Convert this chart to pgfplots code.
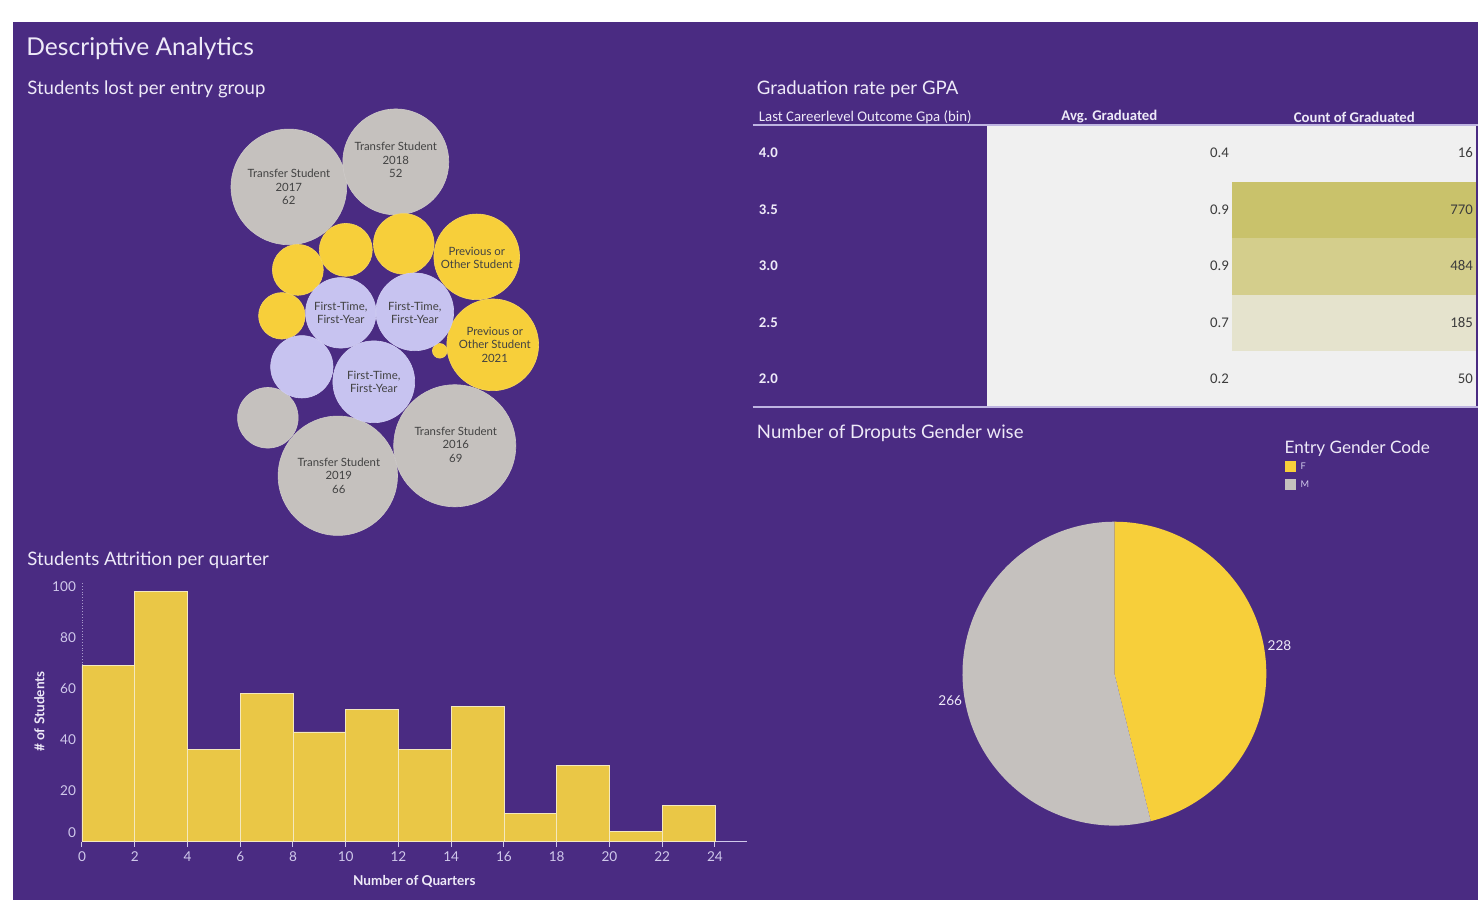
\documentclass[border=0pt]{standalone}
\usepackage{pgfplots}
\pgfplotsset{compat=1.18}
\usepackage{pgfplotstable}
\usepackage{fontspec}
\setmainfont{Lato}
\newfontfamily\tabfont{Carlito}
\definecolor{bgpurple}{RGB}{74,43,130}
\definecolor{txtlav}{RGB}{238,234,248}
\definecolor{ticklav}{RGB}{208,201,235}
\definecolor{ylw}{RGB}{247,207,58}
\definecolor{histy}{RGB}{234,199,70}
\definecolor{histline}{RGB}{244,232,190}
\definecolor{gry}{RGB}{197,193,190}
\definecolor{lav}{RGB}{199,195,240}
\definecolor{bubtxt}{RGB}{66,66,66}
\definecolor{cellgray}{RGB}{240,240,240}
\definecolor{olivea}{RGB}{201,194,107}
\definecolor{oliveb}{RGB}{212,206,140}
\definecolor{olivec}{RGB}{229,227,205}
\definecolor{celltxt}{RGB}{60,60,60}
\definecolor{rule}{RGB}{190,180,225}

\pgfplotstableread{
x y v
289 187 62
396 162 52
455 446 69
338 476 66
268 418 17
}\greyb
\pgfplotstableread{
x y v
298 270 12
346 250 13
404 244 17
477 257 34
282 316 10
440 351 1
493 345 39
}\yellowb
\pgfplotstableread{
x y v
341 313 23
415 312 28
302 367 18
374 382 31
}\lavb
\pgfplotstableread{
x y
0 69
2 98
4 36
6 58
8 43
10 52
12 36
14 53
16 11
18 30
20 4
22 14
24 14
}\hist
\def\nF{228}\def\nM{266}
\pgfmathsetmacro{\fang}{360/(\nF+\nM)*\nF}
\pgfmathsetmacro{\bang}{90-\fang}

\pgfplotsset{bubble/.style={only marks, mark=*, scatter, point meta=\thisrow{v},
  scatter/use mapped color={draw=#1!85!white, fill=#1, line width=0.3pt},
  visualization depends on={3.675*sqrt(\thisrow{v}) \as \bubr},
  scatter/@pre marker code/.append style={/tikz/mark size=\bubr}},
  page/.style={at={(0,0)}, anchor=south west, scale only axis, width=739.5pt, height=450pt,
  xmin=0, xmax=1479, ymin=0, ymax=900, y dir=reverse, hide axis, clip=false}}
\newcommand\bub[3]{\node[align=center, text=bubtxt, inner sep=0pt, font=\fontsize{5.7}{6.9}\selectfont] at (axis cs:#1,#2) {#3};}
\newcommand\ttl[3]{\node[anchor=west, inner sep=0pt, text=txtlav, font=\fontsize{9.3}{11}\selectfont] at (axis cs:#1,#2) {#3};}
\newcommand\tabf{\tabfont\fontsize{7.4}{8}\selectfont}
\newcommand\tabb{\tabfont\bfseries\fontsize{7.4}{8}\selectfont}
\newcommand\trow[4]{%
  \node[anchor=west, inner sep=0pt, text=txtlav, font=\tabb] at (axis cs:759,#1) {#2};
  \node[anchor=east, inner sep=0pt, text=celltxt, font=\tabf] at (axis cs:1230,#1) {#3};
  \node[anchor=east, inner sep=0pt, text=celltxt, font=\tabf] at (axis cs:1474,#1) {#4};}

\begin{document}
\begin{tikzpicture}
\begin{axis}[page]
% background
\fill[white] (axis cs:0,0) rectangle (axis cs:1479,900);
\fill[bgpurple] (axis cs:13,22) rectangle (axis cs:1479,900);
% titles
\node[anchor=west, inner sep=0pt, text=txtlav, font=\fontsize{12.3}{14}\selectfont] at (axis cs:26,49) {Descriptive Analytics};
\ttl{27}{89}{Students lost per entry group}
\ttl{757}{89}{Graduation rate per GPA}
\ttl{757}{433}{Number of Droputs Gender wise}
\ttl{27}{561}{Students Attrition per quarter}
% bubbles
\addplot[bubble=gry] table[x=x,y=y] {\greyb};
\addplot[bubble=ylw] table[x=x,y=y] {\yellowb};
\addplot[bubble=lav] table[x=x,y=y] {\lavb};
% table
\fill[cellgray] (axis cs:988,126) rectangle (axis cs:1477,407);
\fill[olivea] (axis cs:1233,182) rectangle (axis cs:1477,238.5);
\fill[oliveb] (axis cs:1233,238.5) rectangle (axis cs:1477,295);
\fill[olivec] (axis cs:1233,295) rectangle (axis cs:1477,351);
\draw[rule, line width=0.8pt] (axis cs:753,125) -- (axis cs:1479,125);
\draw[rule, line width=0.8pt] (axis cs:753,407.5) -- (axis cs:1479,407.5);
\node[anchor=west, inner sep=0pt, text=txtlav, font=\tabf] at (axis cs:759,117) {Last Careerlevel Outcome Gpa (bin)};
\node[inner sep=0pt, text=txtlav, font=\tabb] at (axis cs:1110,117) {Avg. Graduated};
\node[inner sep=0pt, text=txtlav, font=\tabb] at (axis cs:1355,117) {Count of Graduated};
\trow{153}{4.0}{0.4}{16}
\trow{210}{3.5}{0.9}{770}
\trow{266}{3.0}{0.9}{484}
\trow{323}{2.5}{0.7}{185}
\trow{379}{2.0}{0.2}{50}
% pie
\fill[ylw] (axis cs:1115,674) -- ++(90:76pt) arc[start angle=90, end angle=\bang, radius=76pt] -- cycle;
\fill[gry] (axis cs:1115,674) -- ++(\bang:76pt) arc[start angle=\bang, end angle=-270, radius=76pt] -- cycle;
\node[anchor=west, inner sep=0pt, text=txtlav, font=\fontsize{6.8}{8}\selectfont] at (axis cs:1268,646) {\nF};
\node[anchor=east, inner sep=0pt, text=txtlav, font=\fontsize{6.8}{8}\selectfont] at (axis cs:963,701) {\nM};
% legend
\node[anchor=west, inner sep=0pt, text=txtlav, font=\fontsize{8.6}{10}\selectfont] at (axis cs:1285,449) {Entry Gender Code};
\fill[ylw] (axis cs:1286,461) rectangle (axis cs:1297,472);
\fill[gry] (axis cs:1286,479) rectangle (axis cs:1297,490);
\node[anchor=west, inner sep=0pt, text=ticklav, font=\fontsize{4.6}{5}\selectfont] at (axis cs:1301,466.5) {F};
\node[anchor=west, inner sep=0pt, text=ticklav, font=\fontsize{4.6}{5}\selectfont] at (axis cs:1301,484.5) {M};
\end{axis}

% bubble labels (overlay on top of the bubbles)
\begin{axis}[page]
\bub{289}{187}{Transfer Student\\2017\\62}
\bub{396}{160}{Transfer Student\\2018\\52}
\bub{477}{258}{Previous or\\Other Student}
\bub{341}{313}{First-Time,\\First-Year}
\bub{415}{313}{First-Time,\\First-Year}
\bub{495}{345}{Previous or\\Other Student\\2021}
\bub{374}{382}{First-Time,\\First-Year}
\bub{456}{445}{Transfer Student\\2016\\69}
\bub{339}{476}{Transfer Student\\2019\\66}
\end{axis}

% histogram
\begin{axis}[at={(41pt,29pt)}, anchor=south west, scale only axis, width=332.5pt, height=130pt,
  xmin=0, xmax=25.2, ymin=0, ymax=102,
  axis x line=bottom, axis y line=left,
  x axis line style={ticklav, -, line width=0.6pt},
  y axis line style={ticklav!70!bgpurple, densely dotted, line width=0.4pt, -},
  xtick={0,2,...,24}, ytick={20,40,...,100},
  extra y ticks={0}, extra y tick style={yticklabel style={yshift=4.5pt}},
  tick align=outside, major tick length=2.5pt,
  x tick style={ticklav, line width=0.5pt}, y tick style={draw=none},
  /pgf/number format/assume math mode=true,
  ticklabel style={text=ticklav, font=\fontsize{6.8}{8}\selectfont},
  yticklabel style={xshift=3pt},
  xticklabel style={yshift=1pt},
  xlabel={\textbf{Number of Quarters}}, ylabel={\textbf{\# of Students}},
  xlabel style={text=txtlav, font=\fontsize{6.8}{8}\selectfont, yshift=0pt},
  ylabel style={text=txtlav, font=\fontsize{6.8}{8}\selectfont, yshift=-8pt},
  clip=false]
\addplot[ybar interval, fill=histy, draw=histline, line width=0.4pt] table[x=x,y=y] {\hist};
\end{axis}
\end{tikzpicture}
\end{document}
